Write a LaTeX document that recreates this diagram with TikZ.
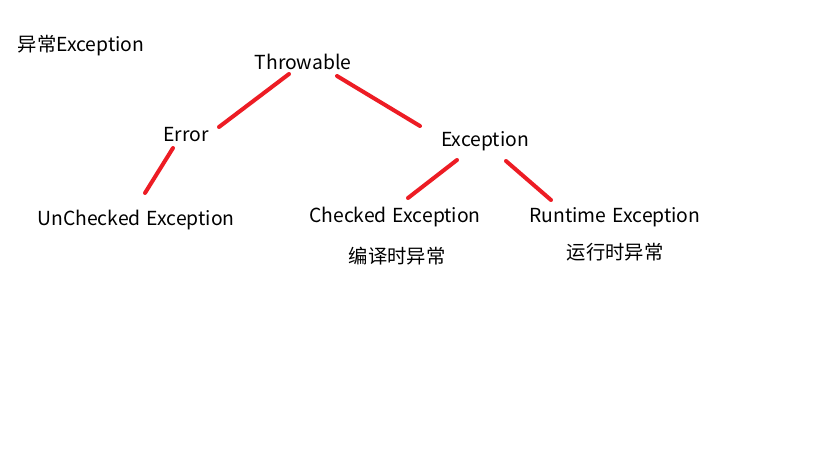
\documentclass[tikz,border=0pt]{standalone}
\usepackage{fontspec}
\setmainfont[WordSpace=1.4]{Noto Sans CJK SC}
\definecolor{paintred}{RGB}{237,28,36}

\begin{document}
\begin{tikzpicture}[x=0.75pt,y=0.75pt,yscale=-1,xscale=1]
\tikzset{label/.style={inner sep=0.75pt,font=\fontsize{14.5}{17}\selectfont},
  edge/.style={draw=paintred,line width=3pt,line cap=round}}
\useasboundingbox[fill=white] (0,0) rectangle (819,460);

% Text Node
\node[label] (title) at (81,46) {异常Exception};
% Text Node
\node[label] (throwable) at (303,62) {Throwable};
% Text Node
\node[label] (error) at (186,135) {Error};
% Text Node
\node[label] (exception) at (485,141) {Exception};
% Text Node
\node[label] (unchecked) at (136,220) {UnChecked Exception};
% Text Node
\node[label] (checked) at (395,217) {Checked Exception};
% Text Node
\node[label] (runtime) at (615,217) {Runtime Exception};
% Text Node
\node[label] (compiletime) at (397,256) {编译时异常};
% Text Node
\node[label] (runtimecn) at (615,252) {运行时异常};

%Straight Lines
\draw[edge] ([shift={(-14,12)}]throwable.center) -- ([shift={(33,-8)}]error.center);
%Straight Lines
\draw[edge] ([shift={(34,14)}]throwable.center) -- ([shift={(-65,-15)}]exception.center);
%Straight Lines
\draw[edge] ([shift={(-13,13)}]error.center) -- ([shift={(9,-27)}]unchecked.center);
%Straight Lines
\draw[edge] ([shift={(-28,19)}]exception.center) -- ([shift={(13,-19)}]checked.center);
%Straight Lines
\draw[edge] ([shift={(21,20)}]exception.center) -- ([shift={(-64,-17)}]runtime.center);

\end{tikzpicture}
\end{document}
